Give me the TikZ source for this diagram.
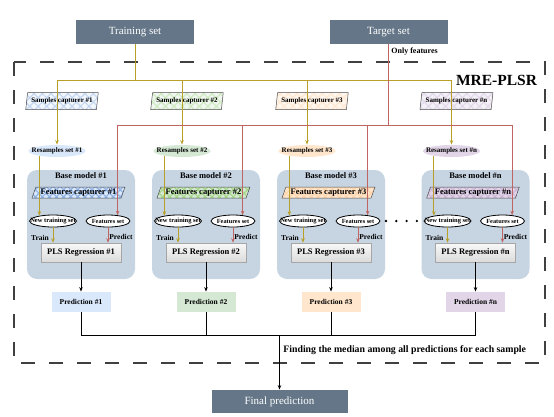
\documentclass[tikz,border=0pt]{standalone}
\usepackage{fontspec}
\setmainfont{Liberation Serif}
\usetikzlibrary{arrows.meta, positioning, shapes.geometric, patterns.meta}
\definecolor{hdrcol}{HTML}{647687}
\definecolor{basecol}{RGB}{199,213,227}
\definecolor{ylwcol}{RGB}{184,160,40}
\definecolor{redcol}{RGB}{190,100,98}
\definecolor{cb1}{HTML}{DAE8FC}\definecolor{cb1d}{HTML}{7EA6E0}
\definecolor{cb2}{HTML}{D5E8D4}\definecolor{cb2d}{HTML}{97D077}
\definecolor{cb3}{HTML}{FFE6CC}\definecolor{cb3d}{HTML}{FFCE9F}
\definecolor{cb4}{HTML}{E1D5E7}\definecolor{cb4d}{HTML}{C3ABD0}
\newcommand{\fsz}[1]{\fontsize{#1}{#1}\selectfont}

\begin{document}
\begin{tikzpicture}[x=1pt, y=-1pt, line width=0.8,
  hdr/.style={fill=hdrcol, text=white, minimum width=118, minimum height=24,
              inner sep=0, font=\fsz{11}},
  capt/.style={trapezium, trapezium stretches=true, trapezium left angle=75,
               trapezium right angle=105, draw=black!70, line width=0.5,
               minimum width=73, minimum height=17, inner xsep=1, inner ysep=0,
               font=\fsz{7}\bfseries},
  ar/.style={-{Stealth[length=4.5pt, width=3.5pt]}},
  ylw/.style={draw=ylwcol, line width=1},
  rdl/.style={draw=redcol, line width=1}]
  \useasboundingbox (0,0) rectangle (554,416);

  \node[hdr] (trn) at (135,32) {Training set};
  \node[hdr] (tgt) at (388.5,32) {Target set};
  \node[hdr, minimum width=136, minimum height=23] (fin) at (279.5,401.5) {Final prediction};

  \draw[black!75, line width=1.2, dash pattern=on 14pt off 14pt] (14,62) rectangle (545,363);
  \node[font=\fsz{15.5}\bfseries] (mre) at (496.5,80) {MRE-PLSR};
  \node[anchor=west, font=\fsz{8}\bfseries, inner sep=0] (onl) at (391,52) {Only features};

  \coordinate (ybus) at (0,80);
  \coordinate (tbus) at (0,125);
  \coordinate (pbus) at (0,335);

  \foreach \i/\c/\col/\pcol in {1/81/cb1/cb1d, 2/206/cb2/cb2d,
                                3/331/cb3/cb3d, n/475.5/cb4/cb4d} {
    \node[capt, pattern={Hatch[angle=45, distance=6pt, line width=1.2pt]},
          pattern color=\pcol!45, preaction={fill=\col!35}] (smp\i) at (\c-19,101)
      {Samples capturer \#\i};
    \node[ellipse, fill=\col, inner sep=0, minimum width=57, minimum height=12,
          font=\fsz{7}\bfseries] (res\i) at (\c-24,151)
      {\makebox[0pt]{Resamples set \#\i}};

    \node[fill=basecol, rounded corners=10, minimum width=108, minimum height=109]
      (bm\i) at (\c,224.5) {};
    \node[font=\fsz{8.5}\bfseries] (bml\i) at (\c,176) {Base model \#\i};
    \node[trapezium, trapezium stretches=true, trapezium left angle=65,
          trapezium right angle=115, draw=black!70, line width=0.5,
          preaction={fill=\col}, pattern={Hatch[angle=45, distance=5pt, line width=1.2pt]},
          pattern color=\pcol!85, minimum width=93, minimum height=11, inner sep=0,
          font=\fsz{8.5}\bfseries] (fc\i) at (\c-2.5,192.5) {Features capturer \#\i};
    \node[ellipse, draw, fill=white, inner sep=0, minimum width=47, minimum height=12,
          font=\fsz{6.5}\bfseries] (ntr\i) at (\c-28,221)
      {\makebox[0pt]{New training set}};
    \node[ellipse, draw, fill=white, inner sep=0, minimum width=44, minimum height=12,
          font=\fsz{6.3}\bfseries] (fts\i) at (\c+27,221)
      {\makebox[0pt]{Features set}};
    \node[draw=gray!70, line width=0.5, top color=gray!5, bottom color=gray!28,
          minimum width=80, minimum height=19, font=\fsz{8.5}\bfseries] (pls\i) at (\c,252.5)
      {PLS Regression \#\i};
    \node[font=\fsz{7.5}\bfseries] (trl\i) at (\c-41,238) {Train};
    \node[font=\fsz{7.5}\bfseries] (prl\i) at (\c+40,236.5) {Predict};
    \node[fill=\col, minimum width=59, minimum height=20, font=\fsz{7.5}\bfseries]
      (pred\i) at (\c,302) {Prediction \#\i};

    % connectors of one column
    \draw[ylw, ar] (res\i.north |- ybus) -- (res\i.north);
    \draw[ylw, ar] (res\i.196) -- (res\i.196 |- ntr\i.158);
    \draw[rdl, ar] (fts\i.31 |- tbus) -- (fts\i.31);
    \draw[ylw, ar] (ntr\i.south) -- (ntr\i.south |- pls\i.north);
    \draw[rdl, ar] (fts\i.south) -- (fts\i.south |- pls\i.north);
    \draw[ar] (pls\i.south) -- (pred\i.north);
    \draw (pred\i.south) -- (pred\i.south |- pbus);
  }

  \draw[ylw] (trn.south) -- (trn.south |- ybus);
  \draw[ylw] (res1.north |- ybus) -- (resn.north |- ybus);
  \draw[rdl] (tgt.south) -- (tgt.south |- tbus);
  \draw[rdl] (fts1.31 |- tbus) -- (ftsn.31 |- tbus);
  \draw (pred1.south |- pbus) -- (predn.south |- pbus);
  \draw[ar] (fin.north |- pbus) -- (fin.north);

  \foreach \d in {0,...,3}
    \fill (386+\d*10.3,221) circle (1.3pt);

  \node[anchor=west, font=\fsz{9.8}\bfseries, inner sep=0] (med) at (283,350)
    {Finding the median among all predictions for each sample};
\end{tikzpicture}
\end{document}
